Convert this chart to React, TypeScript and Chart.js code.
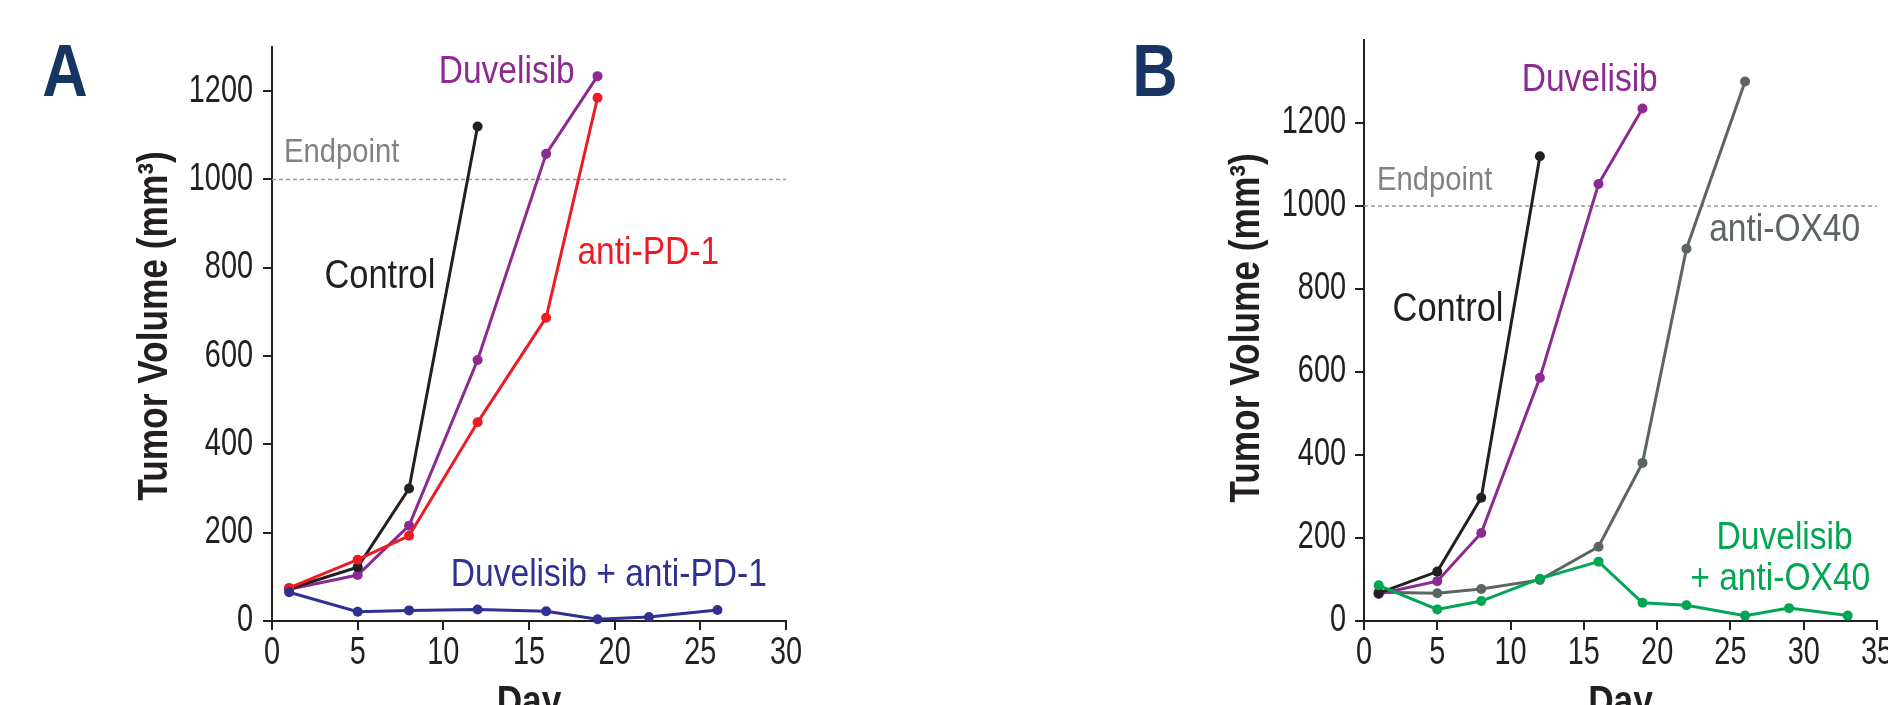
import React, { useEffect, useRef } from "react";
import { Chart, registerables } from "chart.js";

Chart.register(...registerables);

const FONT = "'Liberation Sans', Arimo, Arial, sans-serif";
const SX = 0.86; // horizontal condensing of regular text
const SX_BOLD = 0.84;

// ---------- Panel A data ----------
const daysAControl = [1, 5, 8, 12];
const volAControl = [73, 122, 300, 1120];
const daysADuv = [1, 5, 8, 12, 16, 19];
const volADuv = [72, 104, 216, 591, 1058, 1234];
const daysAPD1 = [1, 5, 8, 12, 16, 19];
const volAPD1 = [75, 139, 193, 450, 687, 1185];
const daysACombo = [1, 5, 8, 12, 16, 19, 22, 26];
const volACombo = [65, 21, 24, 26, 22, 4, 9, 25];

// ---------- Panel B data ----------
const daysBControl = [1, 5, 8, 12];
const volBControl = [67, 119, 297, 1120];
const daysBDuv = [1, 5, 8, 12, 16, 19];
const volBDuv = [65, 96, 212, 586, 1053, 1235];
const daysBOX40 = [1, 5, 8, 12, 16, 19, 22, 26];
const volBOX40 = [69, 67, 77, 99, 179, 381, 897, 1300];
const daysBCombo = [1, 5, 8, 12, 16, 19, 22, 26, 29, 33];
const volBCombo = [86, 28, 48, 102, 143, 44, 38, 13, 31, 13];

// ---------- Tick labels ----------
const yTicks = [0, 200, 400, 600, 800, 1000, 1200];
const xTicksA = [0, 5, 10, 15, 20, 25, 30];
const xTicksB = [0, 5, 10, 15, 20, 25, 30, 35];

const ENDPOINT = 1000;
const Y_TITLE = "Tumor Volume (mm\u00B3)";
const X_TITLE = "Day";

const C_BLACK = "#231f20";
const C_PURPLE = "#8b2a91";
const C_RED = "#ed1c24";
const C_NAVY = "#2e3192";
const C_GRAY = "#5d6563";
const C_GREEN = "#00a651";
const C_ENDPT = "#808285";
const C_LETTER = "#163562";

type Label = { text: string; x: number; y: number; color: string; size: number; align?: CanvasTextAlign };

type PanelCfg = {
  letter: string;
  letterX: number;
  titleX: number;
  titleY: number;
  canvasWidth: number;
  left: number;
  yWidth: number;
  yLabelGap: number;
  padRight: number;
  padTop: number;
  xMax: number;
  yMax: number;
  xTicks: number[];
  datasets: { days: number[]; vols: number[]; color: string }[];
  labels: Label[];
};

const pts = (d: number[], v: number[]) => d.map((x, i) => ({ x, y: v[i] }));

const panels: PanelCfg[] = [
  {
    letter: "A",
    letterX: 65,
    titleX: 155,
    titleY: 326,
    canvasWidth: 944,
    left: 0,
    yWidth: 272,
    yLabelGap: 19,
    padRight: 158,
    padTop: 47,
    xMax: 30,
    yMax: 1300,
    xTicks: xTicksA,
    datasets: [
      { days: daysACombo, vols: volACombo, color: C_NAVY },
      { days: daysAPD1, vols: volAPD1, color: C_RED },
      { days: daysAControl, vols: volAControl, color: C_BLACK },
      { days: daysADuv, vols: volADuv, color: C_PURPLE },
    ],
    labels: [
      { text: "Duvelisib", x: 13.7, y: 1242, color: C_PURPLE, size: 39 },
      { text: "Endpoint", x: 0.7, y: 1060, color: C_ENDPT, size: 34, align: "left" },
      { text: "Control", x: 6.3, y: 780, color: C_BLACK, size: 40 },
      { text: "anti-PD-1", x: 21.96, y: 832, color: C_RED, size: 39 },
      { text: "Duvelisib + anti-PD-1", x: 19.66, y: 104, color: C_NAVY, size: 39 },
    ],
  },
  {
    letter: "B",
    letterX: 211,
    titleX: 303.5,
    titleY: 328,
    canvasWidth: 1000,
    left: 944,
    yWidth: 420,
    yLabelGap: 18,
    padRight: 67,
    padTop: 40,
    xMax: 35,
    yMax: 1400,
    xTicks: xTicksB,
    datasets: [
      { days: daysBCombo, vols: volBCombo, color: C_GREEN },
      { days: daysBControl, vols: volBControl, color: C_BLACK },
      { days: daysBDuv, vols: volBDuv, color: C_PURPLE },
      { days: daysBOX40, vols: volBOX40, color: C_GRAY },
    ],
    labels: [
      { text: "Duvelisib", x: 15.4, y: 1302, color: C_PURPLE, size: 39 },
      { text: "Endpoint", x: 0.89, y: 1062, color: C_ENDPT, size: 34, align: "left" },
      { text: "Control", x: 5.73, y: 749, color: C_BLACK, size: 40 },
      { text: "anti-OX40", x: 28.7, y: 942, color: C_GRAY, size: 39 },
      { text: "Duvelisib", x: 28.7, y: 200, color: C_GREEN, size: 39 },
      { text: "+ anti-OX40", x: 28.4, y: 101, color: C_GREEN, size: 39 },
    ],
  },
];

function drawText(
  ctx: CanvasRenderingContext2D,
  text: string,
  x: number,
  y: number,
  o: { size: number; color: string; bold?: boolean; align?: CanvasTextAlign; baseline?: CanvasTextBaseline; sx?: number; rot?: number }
) {
  ctx.save();
  ctx.translate(x, y);
  if (o.rot) ctx.rotate(o.rot);
  ctx.scale(o.sx ?? (o.bold ? SX_BOLD : SX), 1);
  ctx.font = `${o.bold ? "bold " : ""}${o.size}px ${FONT}`;
  ctx.fillStyle = o.color;
  ctx.textAlign = o.align || "center";
  ctx.textBaseline = o.baseline || "middle";
  ctx.fillText(text, 0, 0);
  ctx.restore();
}

function makePlugin(cfg: PanelCfg) {
  return {
    id: "decor" + cfg.letter,
    beforeDatasetsDraw(chart: any) {
      const { ctx, chartArea, scales } = chart;
      const y = scales.y.getPixelForValue(ENDPOINT);
      ctx.save();
      ctx.strokeStyle = "#9b9b9b";
      ctx.lineWidth = 1.5;
      ctx.setLineDash([4, 3]);
      ctx.beginPath();
      ctx.moveTo(chartArea.left, y);
      ctx.lineTo(chartArea.right, y);
      ctx.stroke();
      ctx.restore();
    },
    afterDraw(chart: any) {
      const { ctx, chartArea, scales } = chart;
      // tick labels from the library's own ticks
      scales.y.ticks.forEach((t: any) => {
        drawText(ctx, String(t.value), chartArea.left - cfg.yLabelGap, scales.y.getPixelForValue(t.value), {
          size: 38,
          color: C_BLACK,
          align: "right",
          sx: 0.76,
        });
      });
      scales.x.ticks.forEach((t: any) => {
        drawText(ctx, String(t.value), scales.x.getPixelForValue(t.value), chartArea.bottom + 33, {
          size: 38,
          color: C_BLACK,
          sx: 0.76,
        });
      });
      // annotations
      cfg.labels.forEach((l) => {
        drawText(ctx, l.text, scales.x.getPixelForValue(l.x), scales.y.getPixelForValue(l.y), {
          size: l.size,
          color: l.color,
          align: l.align || "center",
        });
      });
      // panel letter
      drawText(ctx, cfg.letter, cfg.letterX, 96, {
        size: 74,
        bold: true,
        color: C_LETTER,
        baseline: "alphabetic",
        sx: 0.85,
      });
      // x title
      drawText(ctx, X_TITLE, (chartArea.left + chartArea.right) / 2, 715, {
        size: 42,
        bold: true,
        color: C_BLACK,
        baseline: "alphabetic",
      });
      // y title
      drawText(ctx, Y_TITLE, cfg.titleX, cfg.titleY, {
        size: 42,
        bold: true,
        color: C_BLACK,
        rot: -Math.PI / 2,
      });
    },
  };
}

function Panel({ cfg }: { cfg: PanelCfg }) {
  const ref = useRef<HTMLCanvasElement | null>(null);
  useEffect(() => {
    if (!ref.current) return;
    const axisStyle = {
      grid: { drawOnChartArea: false, drawTicks: true, tickLength: 9, color: C_BLACK, lineWidth: 2 },
      border: { display: true, color: C_BLACK, width: 2 },
    };
    const chart = new Chart(ref.current, {
      type: "line",
      data: {
        datasets: cfg.datasets.map((d) => ({
          data: pts(d.days, d.vols),
          borderColor: d.color,
          backgroundColor: d.color,
          pointBackgroundColor: d.color,
          pointBorderColor: d.color,
          pointBorderWidth: 0,
          pointRadius: 5,
          borderWidth: 3,
          tension: 0,
          fill: false,
          clip: false as any,
        })),
      },
      options: {
        animation: false,
        responsive: false,
        devicePixelRatio: 1,
        layout: { padding: { left: 0, top: cfg.padTop, right: cfg.padRight, bottom: 0 } },
        plugins: { legend: { display: false }, tooltip: { enabled: false } },
        scales: {
          x: {
            type: "linear",
            min: 0,
            max: cfg.xMax,
            afterBuildTicks: (s: any) => {
              s.ticks = cfg.xTicks.map((value) => ({ value }));
            },
            afterFit: (s: any) => {
              s.height = 84;
            },
            ticks: { display: false, autoSkip: false, maxRotation: 0 },
            ...axisStyle,
          },
          y: {
            type: "linear",
            min: 0,
            max: cfg.yMax,
            afterBuildTicks: (s: any) => {
              s.ticks = yTicks.map((value) => ({ value }));
            },
            afterFit: (s: any) => {
              s.width = cfg.yWidth;
            },
            ticks: { display: false, autoSkip: false },
            ...axisStyle,
          },
        },
      } as any,
      plugins: [makePlugin(cfg)],
    });
    return () => chart.destroy();
  }, [cfg]);
  return (
    <canvas
      ref={ref}
      width={cfg.canvasWidth}
      height={705}
      style={{ position: "absolute", left: cfg.left, top: 0, width: cfg.canvasWidth, height: 705 }}
    />
  );
}

export default function App() {
  return (
    <div
      style={{
        position: "fixed",
        left: 0,
        top: 0,
        width: 1888,
        height: 705,
        overflow: "hidden",
        background: "#ffffff",
      }}
    >
      {panels.map((p) => (
        <Panel key={p.letter} cfg={p} />
      ))}
    </div>
  );
}
